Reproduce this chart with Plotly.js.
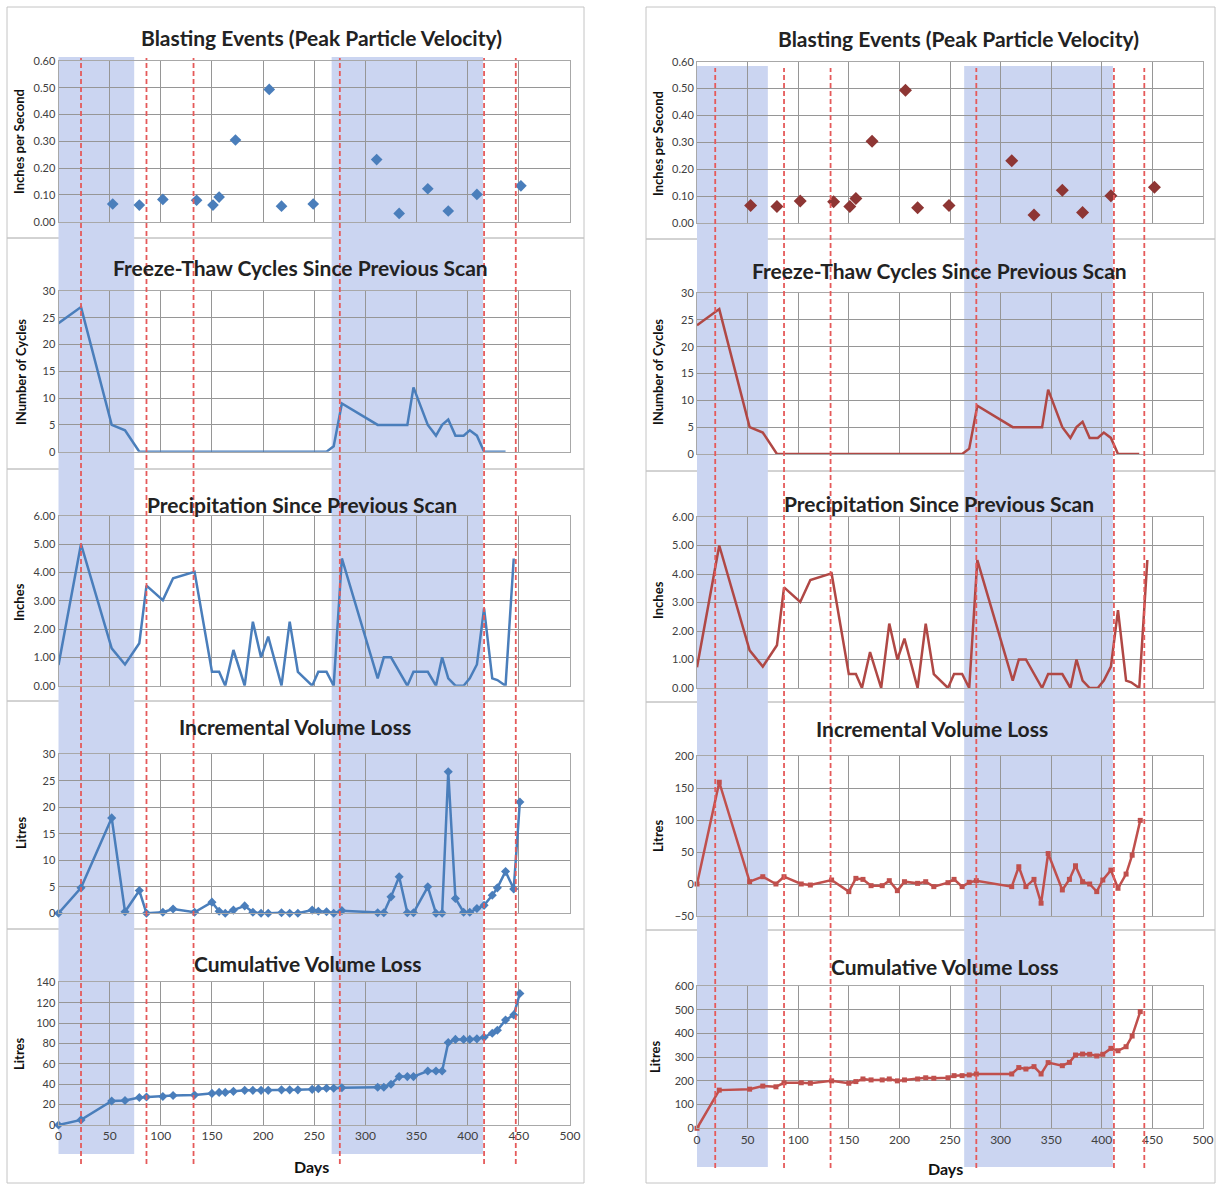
<!DOCTYPE html>
<html><head><meta charset="utf-8">
<script src="https://cdn.plot.ly/plotly-3.0.1.min.js"></script>
<style>html,body{margin:0;padding:0;background:#fff}#chart{width:1217px;height:1184px}</style>
</head><body><div id="chart"></div>
<script>
// ---------------- DATA ----------------
const blastDays = [53, 79, 102, 135, 151, 157, 173, 206, 218, 249, 311, 333, 361, 381, 409, 452];
const blastPPV  = [0.066, 0.062, 0.083, 0.080, 0.062, 0.092, 0.305, 0.494, 0.058, 0.066, 0.232, 0.031, 0.123, 0.040, 0.102, 0.134];

const freezeDays   = [0,22,52,65,79,86,102,112,133,150,157,163,171,182,190,198,205,218,226,234,248,254,262,269,277,312,318,325,333,341,347,361,369,375,381,388,396,402,409,416,424,429,437];
const freezeCycles = [24,27,5,4,0,0,0,0,0,0,0,0,0,0,0,0,0,0,0,0,0,0,0,1,9,5,5,5,5,5,12,5,3,5,6,3,3,4,3,0,0,0,0];

const precipDays   = [0,22,52,65,79,86,102,112,133,150,157,163,171,182,190,198,205,218,226,234,248,254,262,269,277,312,318,325,341,347,361,369,375,381,388,396,402,409,416,424,429,437,445];
const precipInches = [0.73,5.0,1.32,0.75,1.5,3.53,3.02,3.79,4.02,0.49,0.49,0,1.26,0,2.26,1.0,1.73,0,2.26,0.49,0,0.49,0.49,0,4.49,0.26,1.0,1.0,0,0.49,0.49,0,1.0,0.26,0,0,0.26,0.75,2.73,0.26,0.2,0,4.49];

const leftScanDays = [0,22,52,65,79,86,102,112,133,150,157,163,171,182,190,198,205,218,226,234,248,254,262,269,277,312,318,325,333,341,347,361,369,375,381,388,396,402,409,416,424,429,437,445,451];
const leftIncLitres = [0,4.8,18.0,0.3,4.3,0,0.2,0.8,0.2,2.1,0.4,0,0.6,1.4,0.2,0,0,0.1,0,0,0.6,0.4,0.3,0,0.5,0.1,0.1,3.1,6.9,0.1,0.1,5.0,0,0,26.7,2.8,0.2,0.2,0.9,1.5,3.4,4.8,7.9,4.6,21.0];
const leftCumLitres = [0,5,23.5,24,27,27.5,28,29,29.5,31,32,32,33,34,34,34,34,34.5,34.5,34.5,35,35.5,36,36,36.5,37,37,40,47.5,47.5,47.5,53,53,53,81,84,84,84,84.5,86,90,93,103,108,129];

const rightScanDays = [0,22,52,65,78,86,103,112,133,150,157,164,172,183,190,198,205,218,226,234,248,254,262,269,276,311,318,325,333,340,347,361,368,374,381,388,395,401,409,416,424,430,438];
const rightIncLitres = [0,159,3.6,11.4,0,11.4,0,-1.6,6.2,-11.9,8.8,7.2,-2.6,-2.6,5.2,-10.4,3.6,1.0,3.6,-4.1,2.1,7.2,-4.1,2.6,5.2,-4.1,27,-4.1,7.2,-30,47.6,-9.3,7.2,28.5,3.6,0,-11.9,6.2,21.7,-6.7,15.5,45,99.4];
const rightCumLitres = [0,161,165,178,175,192,192,190,200,190,197,208,204,204,208,200,204,208,213,211,213,222,222,225,229,229,256,250,260,229,277,264,278,309,313,312,305,312,337,327,344,389,492];

const leftMarkerDays  = [22, 86, 132, 275, 416, 447];
const leftShadeStart  = [-5, 267];
const leftShadeEnd    = [74, 415];
const rightMarkerDays = [18, 86, 132, 276, 412, 442];
const rightShadeStart = [-9, 264];
const rightShadeEnd   = [70, 411];

const panelTitles = ['Blasting Events (Peak Particle Velocity)', 'Freeze-Thaw Cycles Since Previous Scan', 'Precipitation Since Previous Scan', 'Incremental Volume Loss', 'Cumulative Volume Loss'];
const yTitles = ['Inches per Second', 'INumber of Cycles', 'Inches', 'Litres', 'Litres'];
const xTitle = 'Days';

// ---------------- LAYOUT HELPERS ----------------
const W = 1217, H = 1184;
const fx = v => v / W;
const fy = v => 1 - v / H;
const FONT = 'Lato, "Open Sans", sans-serif';
const BLUE = '#4A7EBB', DRED = '#8E3634', RED = '#B04845', RED2 = '#C0504D';

const leftX = [58.5, 570], rightX = [697, 1203];
const leftY = [[61, 221.7], [291, 451.7], [515.7, 685.7], [754.3, 913.3], [982.3, 1125]];
const rightY = [[61.7, 223.3], [293, 454], [517, 688], [756, 916], [986, 1128.3]];
const leftYR = [[0, 0.6, 0.1, '.2f'], [0, 30, 5, 'd'], [0, 6, 1, '.2f'], [0, 30, 5, 'd'], [0, 140, 20, 'd']];
const rightYR = [[0, 0.6, 0.1, '.2f'], [0, 30, 5, 'd'], [0, 6, 1, '.2f'], [-50, 200, 50, 'd'], [0, 600, 100, 'd']];

const layout = {
  width: W, height: H, margin: {l: 0, r: 0, t: 0, b: 0},
  paper_bgcolor: '#ffffff', plot_bgcolor: 'rgba(0,0,0,0)',
  showlegend: false, font: {family: FONT, color: '#404040', size: 11},
  shapes: [], annotations: []
};

function addAxes(idx, xpx, ypx, yr, showX) {
  const xs = idx === 1 ? 'xaxis' : 'xaxis' + idx;
  const ys = idx === 1 ? 'yaxis' : 'yaxis' + idx;
  const yid = idx === 1 ? 'y' : 'y' + idx;
  const xid = idx === 1 ? 'x' : 'x' + idx;
  layout[xs] = {
    domain: [fx(xpx[0]), fx(xpx[1])], anchor: yid, range: [0, 500], tick0: 0, dtick: 50,
    showgrid: true, gridcolor: '#969696', gridwidth: 1, zeroline: false,
    showline: true, mirror: true, linecolor: '#a8a8a8', linewidth: 1, ticks: '',
    showticklabels: showX, tickfont: {family: FONT, size: 12, color: '#404040'}, fixedrange: true
  };
  layout[ys] = {
    domain: [fy(ypx[1]), fy(ypx[0])], anchor: xid, range: [yr[0], yr[1]], tick0: yr[0], dtick: yr[2],
    tickformat: yr[3], showgrid: true, gridcolor: '#969696', gridwidth: 1, zeroline: false,
    showline: true, mirror: true, linecolor: '#a8a8a8', linewidth: 1, ticks: '',
    tickfont: {family: FONT, size: 11, color: '#404040'}, fixedrange: true
  };
}
for (let i = 0; i < 5; i++) {
  addAxes(i + 1, leftX, leftY[i], leftYR[i], i === 4);
  addAxes(i + 6, rightX, rightY[i], rightYR[i], i === 4);
}

const leftBorders = [7, 238, 469, 701, 929, 1183];
const rightBorders = [7, 239, 471, 702, 930, 1183];
for (let i = 0; i < 5; i++) {
  layout.shapes.push({type: 'rect', xref: 'paper', yref: 'paper', layer: 'below',
    x0: fx(7), x1: fx(584), y0: fy(leftBorders[i + 1]), y1: fy(leftBorders[i]),
    line: {color: '#c4c4c4', width: 1}, fillcolor: 'rgba(0,0,0,0)'});
  layout.shapes.push({type: 'rect', xref: 'paper', yref: 'paper', layer: 'below',
    x0: fx(646), x1: fx(1215), y0: fy(rightBorders[i + 1]), y1: fy(rightBorders[i]),
    line: {color: '#c4c4c4', width: 1}, fillcolor: 'rgba(0,0,0,0)'});
}
function addShading(xref, starts, ends, top, bottom) {
  for (let i = 0; i < starts.length; i++) {
    layout.shapes.push({type: 'rect', xref: xref, yref: 'paper', layer: 'below',
      x0: starts[i], x1: ends[i], y0: fy(bottom), y1: fy(top),
      line: {width: 0}, fillcolor: 'rgb(203,213,241)'});
  }
}
addShading('x5', leftShadeStart, leftShadeEnd, 57, 1154);
addShading('x10', rightShadeStart, rightShadeEnd, 66, 1167);
function addDashes(xref, days, top, bottom) {
  days.forEach(d => layout.shapes.push({type: 'line', xref: xref, yref: 'paper', layer: 'above',
    x0: d, x1: d, y0: fy(bottom), y1: fy(top), line: {color: '#E55A5A', width: 1.8, dash: '5px,3px'}}));
}
addDashes('x5', leftMarkerDays, 58, 1164);
addDashes('x10', rightMarkerDays, 68, 1168);

const leftTitlePos = [[321, 37], [300, 268], [302, 504], [295, 726], [307, 963]];
const rightTitlePos = [[958, 38], [939, 271], [939, 503], [932, 728], [944, 966]];
function titleAnn(t, p) {
  return {text: '<b>' + t + '</b>', xref: 'paper', yref: 'paper', x: fx(p[0]), y: fy(p[1]),
    xanchor: 'center', yanchor: 'middle', showarrow: false,
    font: {family: FONT, size: 21, color: '#222222'}};
}
for (let i = 0; i < 5; i++) {
  layout.annotations.push(titleAnn(panelTitles[i], leftTitlePos[i]));
  layout.annotations.push(titleAnn(panelTitles[i], rightTitlePos[i]));
}
const leftYTPos = [[19, 142], [21, 372], [19, 602], [21, 833], [19, 1054]];
const rightYTPos = [[658, 144], [658, 372], [658, 600], [658, 836], [655, 1057]];
function yAnn(t, p) {
  return {text: '<b>' + t + '</b>', xref: 'paper', yref: 'paper', x: fx(p[0]), y: fy(p[1]),
    xanchor: 'center', yanchor: 'middle', textangle: -90, showarrow: false,
    font: {family: FONT, size: 13, color: '#111'}};
}
for (let i = 0; i < 5; i++) {
  layout.annotations.push(yAnn(yTitles[i], leftYTPos[i]));
  layout.annotations.push(yAnn(yTitles[i], rightYTPos[i]));
}
layout.annotations.push({text: '<b>' + xTitle + '</b>', xref: 'paper', yref: 'paper', x: fx(311), y: fy(1166),
  xanchor: 'center', yanchor: 'middle', showarrow: false, font: {family: FONT, size: 16, color: '#111'}});
layout.annotations.push({text: '<b>' + xTitle + '</b>', xref: 'paper', yref: 'paper', x: fx(946), y: fy(1168),
  xanchor: 'center', yanchor: 'middle', showarrow: false, font: {family: FONT, size: 16, color: '#111'}});

// ---------------- TRACES ----------------
const traces = [
  {type: 'scatter', mode: 'markers', x: blastDays, y: blastPPV, xaxis: 'x', yaxis: 'y',
    marker: {symbol: 'diamond', size: 9, color: BLUE}, cliponaxis: false},
  {type: 'scatter', mode: 'lines', x: freezeDays, y: freezeCycles, xaxis: 'x2', yaxis: 'y2',
    line: {color: BLUE, width: 2.5}, cliponaxis: false},
  {type: 'scatter', mode: 'lines', x: precipDays, y: precipInches, xaxis: 'x3', yaxis: 'y3',
    line: {color: BLUE, width: 2.5}, cliponaxis: false},
  {type: 'scatter', mode: 'lines+markers', x: leftScanDays, y: leftIncLitres, xaxis: 'x4', yaxis: 'y4',
    line: {color: BLUE, width: 2.5}, marker: {symbol: 'diamond', size: 7, color: BLUE}, cliponaxis: false},
  {type: 'scatter', mode: 'lines+markers', x: leftScanDays, y: leftCumLitres, xaxis: 'x5', yaxis: 'y5',
    line: {color: BLUE, width: 2.5}, marker: {symbol: 'diamond', size: 7, color: BLUE}, cliponaxis: false},

  {type: 'scatter', mode: 'markers', x: blastDays, y: blastPPV, xaxis: 'x6', yaxis: 'y6',
    marker: {symbol: 'diamond', size: 10, color: DRED}, cliponaxis: false},
  {type: 'scatter', mode: 'lines', x: freezeDays, y: freezeCycles, xaxis: 'x7', yaxis: 'y7',
    line: {color: RED, width: 2.5}, cliponaxis: false},
  {type: 'scatter', mode: 'lines', x: precipDays, y: precipInches, xaxis: 'x8', yaxis: 'y8',
    line: {color: RED, width: 2.5}, cliponaxis: false},
  {type: 'scatter', mode: 'lines+markers', x: rightScanDays, y: rightIncLitres, xaxis: 'x9', yaxis: 'y9',
    line: {color: RED2, width: 2.5}, marker: {symbol: 'square', size: 5, color: RED2}, cliponaxis: false},
  {type: 'scatter', mode: 'lines+markers', x: rightScanDays, y: rightCumLitres, xaxis: 'x10', yaxis: 'y10',
    line: {color: RED2, width: 2.5}, marker: {symbol: 'square', size: 5, color: RED2}, cliponaxis: false}
];

Plotly.newPlot('chart', traces, layout, {staticPlot: true, displayModeBar: false});
</script>
</body></html>
